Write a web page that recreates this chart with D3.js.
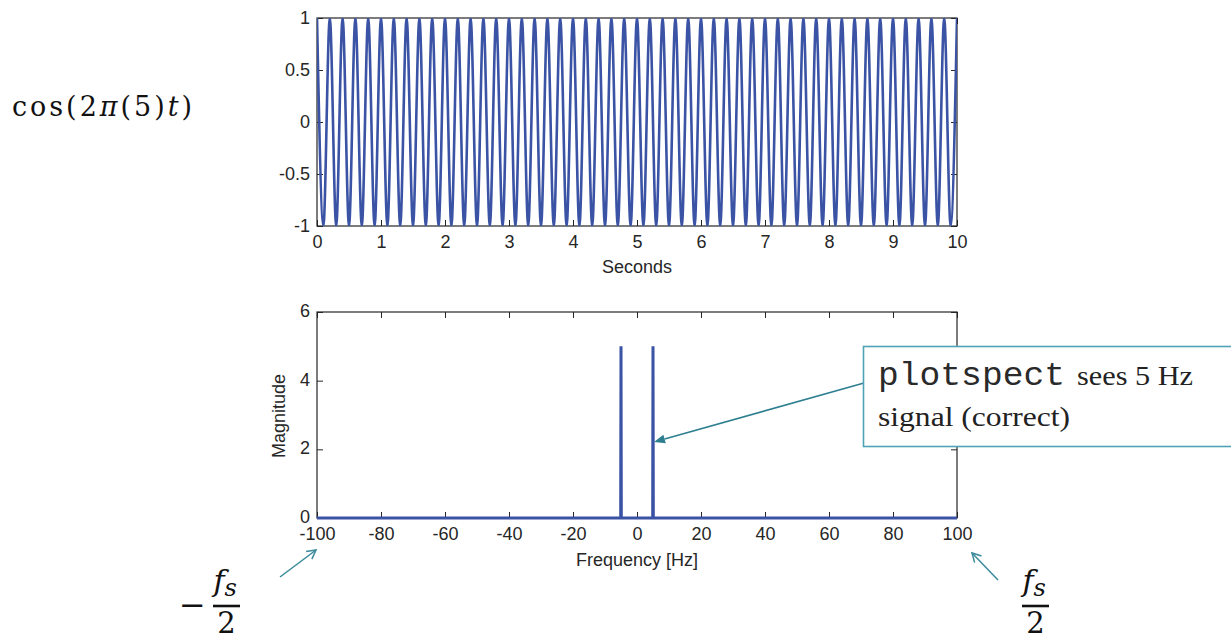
<!DOCTYPE html>
<html>
<head>
<meta charset="utf-8">
<script src="https://cdn.jsdelivr.net/npm/d3@7"></script>
<style>
  html, body { margin: 0; padding: 0; background: #ffffff; }
  svg { display: block; }
  .tick text { font-family: "Liberation Sans", Arial, sans-serif; font-size: 18px; fill: #262626; }
</style>
</head>
<body>
<svg id="chart" width="1231" height="640"></svg>
<script>
// ---------- data ----------
// Top panel: cos(2π·5·t), peaks and troughs every 0.1 s over 0..10 s
const signalTime = [0,0.1,0.2,0.3,0.4,0.5,0.6,0.7,0.8,0.9,1,1.1,1.2,1.3,1.4,1.5,1.6,1.7,1.8,1.9,2,2.1,2.2,2.3,2.4,2.5,2.6,2.7,2.8,2.9,3,3.1,3.2,3.3,3.4,3.5,3.6,3.7,3.8,3.9,4,4.1,4.2,4.3,4.4,4.5,4.6,4.7,4.8,4.9,5,5.1,5.2,5.3,5.4,5.5,5.6,5.7,5.8,5.9,6,6.1,6.2,6.3,6.4,6.5,6.6,6.7,6.8,6.9,7,7.1,7.2,7.3,7.4,7.5,7.6,7.7,7.8,7.9,8,8.1,8.2,8.3,8.4,8.5,8.6,8.7,8.8,8.9,9,9.1,9.2,9.3,9.4,9.5,9.6,9.7,9.8,9.9,10];
const signalValue = [1,-1,1,-1,1,-1,1,-1,1,-1,1,-1,1,-1,1,-1,1,-1,1,-1,1,-1,1,-1,1,-1,1,-1,1,-1,1,-1,1,-1,1,-1,1,-1,1,-1,1,-1,1,-1,1,-1,1,-1,1,-1,1,-1,1,-1,1,-1,1,-1,1,-1,1,-1,1,-1,1,-1,1,-1,1,-1,1,-1,1,-1,1,-1,1,-1,1,-1,1,-1,1,-1,1,-1,1,-1,1,-1,1,-1,1,-1,1,-1,1,-1,1,-1,1];
const topXTicks = [0,1,2,3,4,5,6,7,8,9,10];
const topXTickLabels = ["0","1","2","3","4","5","6","7","8","9","10"];
const topYTicks = [-1,-0.5,0,0.5,1];
const topYTickLabels = ["-1","-0.5","0","0.5","1"];

// Bottom panel: magnitude spectrum
const specFreq = [-100,-5.1,-5,-4.9,4.9,5,5.1,100];
const specMag  = [0,0,5,0,0,5,0,0];
const botXTicks = [-100,-80,-60,-40,-20,0,20,40,60,80,100];
const botXTickLabels = ["-100","-80","-60","-40","-20","0","20","40","60","80","100"];
const botYTicks = [0,2,4,6];
const botYTickLabels = ["0","2","4","6"];

// ---------- drawing ----------
const svg = d3.select("#chart");
const lineColor = "#3a53a4";
const axisColor = "#262626";
const teal = "#2d7f90";

const L = 317, R = 957;
const xT = d3.scaleLinear().domain([0,10]).range([L,R]);
const yT = d3.scaleLinear().domain([-1,1]).range([226,18]);
const xB = d3.scaleLinear().domain([-100,100]).range([L,R]);
const yB = d3.scaleLinear().domain([0,6]).range([518,312]);

function panel(x, y, xt, xl, yt, yl, yLabelDy) {
  const g = svg.append("g");
  const [x0,x1] = x.range(); const [y0,y1] = y.range();
  g.append("g").attr("transform",`translate(0,${y0})`)
    .call(d3.axisBottom(x).tickValues(xt).tickFormat((d,i)=>xl[i]).tickSizeInner(-6).tickSizeOuter(0).tickPadding(9));
  g.append("g").attr("transform",`translate(0,${y1})`)
    .call(d3.axisTop(x).tickValues(xt).tickFormat("").tickSizeInner(-6).tickSizeOuter(0));
  const ya = g.append("g").attr("transform",`translate(${x0},0)`)
    .call(d3.axisLeft(y).tickValues(yt).tickFormat((d,i)=>yl[i]).tickSizeInner(-6).tickSizeOuter(0).tickPadding(7));
  ya.selectAll(".tick text").attr("dy", yLabelDy);
  g.append("g").attr("transform",`translate(${x1},0)`)
    .call(d3.axisRight(y).tickValues(yt).tickFormat("").tickSizeInner(-6).tickSizeOuter(0));
  g.selectAll(".domain").remove();
  g.selectAll(".tick line").attr("stroke", axisColor);
  g.append("rect").attr("x",x0).attr("y",y1).attr("width",x1-x0).attr("height",y0-y1)
    .attr("fill","none").attr("stroke",axisColor).attr("stroke-width",1.2);
  return g;
}

panel(xT, yT, topXTicks, topXTickLabels, topYTicks, topYTickLabels, "0.32em");
panel(xB, yB, botXTicks, botXTickLabels, botYTicks, botYTickLabels, "0.25em");

// clip for top waveform
svg.append("clipPath").attr("id","clipTop").append("rect")
  .attr("x",L).attr("y",18).attr("width",R-L).attr("height",226-18);

const sigData = signalTime.map((t,i)=>[t, signalValue[i]]);
svg.append("path").datum(sigData)
  .attr("clip-path","url(#clipTop)")
  .attr("fill","none").attr("stroke",lineColor).attr("stroke-width",2.6)
  .attr("d", d3.line().x(d=>xT(d[0])).y(d=>yT(d[1])).curve(d3.curveMonotoneX));

const specData = specFreq.map((f,i)=>[f, specMag[i]]);
svg.append("path").datum(specData)
  .attr("fill","none").attr("stroke",lineColor).attr("stroke-width",3)
  .attr("d", d3.line().x(d=>xB(d[0])).y(d=>yB(d[1])));

// axis titles
const sans = '"Liberation Sans", Arial, sans-serif';
svg.append("text").attr("x",637).attr("y",273).attr("text-anchor","middle")
  .attr("font-family",sans).attr("font-size",18).attr("fill",axisColor).text("Seconds");
svg.append("text").attr("x",637).attr("y",566).attr("text-anchor","middle")
  .attr("font-family",sans).attr("font-size",18).attr("fill",axisColor).text("Frequency [Hz]");
svg.append("text").attr("transform","translate(285,416) rotate(-90)").attr("text-anchor","middle")
  .attr("font-family",sans).attr("font-size",18).attr("fill",axisColor).text("Magnitude");

// formula label
const serif = '"DejaVu Serif", "Liberation Serif", serif';
const f = svg.append("text").attr("x",12).attr("y",116).attr("font-family",serif).attr("font-size",27)
  .attr("fill","#111").attr("textLength",180).attr("lengthAdjust","spacing");
f.append("tspan").text("cos(2");
f.append("tspan").attr("font-style","italic").text("π");
f.append("tspan").text("(5)");
f.append("tspan").attr("font-style","italic").text("t");
f.append("tspan").text(")");

// callout arrow (filled head)
function arrowFilled(x1,y1,x2,y2,color,len,half) {
  const a = Math.atan2(y2-y1,x2-x1);
  const bx = x2 - len*Math.cos(a), by = y2 - len*Math.sin(a);
  svg.append("line").attr("x1",x1).attr("y1",y1).attr("x2",bx).attr("y2",by)
    .attr("stroke",color).attr("stroke-width",1.6);
  const px = -Math.sin(a)*half, py = Math.cos(a)*half;
  svg.append("path").attr("d",`M${x2},${y2}L${bx+px},${by+py}L${bx-px},${by-py}Z`).attr("fill",color);
}
function arrowOpen(x1,y1,x2,y2,color,len) {
  const a = Math.atan2(y2-y1,x2-x1);
  svg.append("line").attr("x1",x1).attr("y1",y1).attr("x2",x2).attr("y2",y2)
    .attr("stroke",color).attr("stroke-width",1.5);
  const s = 0.5;
  const p1 = [x2 - len*Math.cos(a-s), y2 - len*Math.sin(a-s)];
  const p2 = [x2 - len*Math.cos(a+s), y2 - len*Math.sin(a+s)];
  svg.append("path").attr("d",`M${p1[0]},${p1[1]}L${x2},${y2}L${p2[0]},${p2[1]}`)
    .attr("fill","none").attr("stroke",color).attr("stroke-width",1.5);
}

arrowFilled(864, 383, 654, 442, teal, 11, 4.5);

// callout box
svg.append("rect").attr("x",863.5).attr("y",346.5).attr("width",400).attr("height",100)
  .attr("fill","#ffffff").attr("stroke","#4fa3b6").attr("stroke-width",1.6);
const tserif = '"Liberation Serif", "Times New Roman", serif';
svg.append("text").attr("x",878).attr("y",385).attr("font-family",'"Liberation Mono", "Courier New", monospace')
  .attr("font-size",33).attr("fill","#2a2a2a").attr("textLength",187).attr("lengthAdjust","spacingAndGlyphs").text("plotspect");
svg.append("text").attr("x",1077).attr("y",385).attr("font-family",tserif)
  .attr("font-size",28).attr("fill","#222").attr("textLength",116).attr("lengthAdjust","spacingAndGlyphs").text("sees 5 Hz");
svg.append("text").attr("x",878).attr("y",426).attr("font-family",tserif)
  .attr("font-size",28).attr("fill","#222").attr("textLength",192).attr("lengthAdjust","spacingAndGlyphs").text("signal (correct)");

// fs/2 arrows
arrowOpen(280, 577, 316, 550, "#3a8a9c", 10);
arrowOpen(998, 580, 972, 553, "#3a8a9c", 10);

// fractions
function frac(cx, withMinus) {
  const g = svg.append("g");
  const t = g.append("text").attr("x",cx-13).attr("y",591).attr("font-family",serif)
    .attr("font-size",30).attr("font-style","italic").attr("fill","#111");
  t.append("tspan").text("f");
  t.append("tspan").attr("font-size",24).attr("dy",5).text("s");
  g.append("line").attr("x1",cx-13.5).attr("x2",cx+13.5).attr("y1",606).attr("y2",606)
    .attr("stroke","#111").attr("stroke-width",2.6);
  g.append("text").attr("x",cx).attr("y",633).attr("text-anchor","middle").attr("font-family",serif)
    .attr("font-size",29).attr("fill","#111").text("2");
  if (withMinus) {
    g.append("text").attr("x",cx-34).attr("y",616).attr("text-anchor","middle").attr("font-family",serif)
      .attr("font-size",32).attr("fill","#111").text("−");
  }
}
frac(226.5, true);
frac(1035.5, false);
</script>
</body>
</html>
